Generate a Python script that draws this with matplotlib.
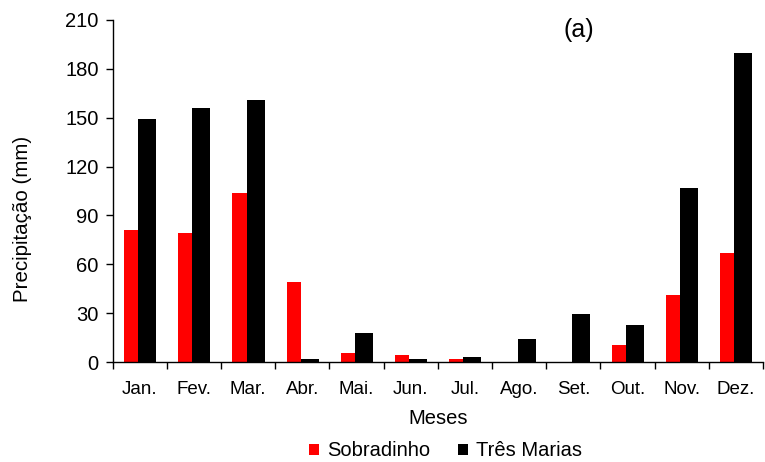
import numpy as np
import matplotlib
matplotlib.use("Agg")
import matplotlib.pyplot as plt
from matplotlib.ticker import FixedLocator

plt.rcParams["font.family"] = ["Liberation Sans", "DejaVu Sans"]

months = ["Jan.", "Fev.", "Mar.", "Abr.", "Mai.", "Jun.", "Jul.", "Ago.", "Set.", "Out.", "Nov.", "Dez."]
sobradinho = [81, 79, 104, 49, 5.5, 4.2, 1.7, 0, 0, 10.5, 41, 67]
tres_marias = [149, 156, 161, 1.7, 18, 1.7, 2.9, 14.3, 29.4, 23, 107, 190]

fig = plt.figure(figsize=(7.65, 4.62), dpi=100)
# axes box in pixels: x 112.7..763, y 20..362
ax = fig.add_axes([112.7 / 765, 1 - 362 / 462, 650.3 / 765, 342 / 462])

x = np.arange(len(months))
ax.bar(x - 0.16, sobradinho, 0.26, color="#ff0000", label="Sobradinho")
ax.bar(x + 0.137, tres_marias, 0.33, color="black", label="Três Marias")

ax.set_xlim(-0.5, len(months) - 0.5)
ax.set_ylim(0, 210)
ax.set_yticks(range(0, 211, 30))
ax.set_xticks(x)
ax.set_xticklabels(months, fontsize=13.5)
ax.tick_params(axis="x", which="major", length=0, pad=14)
ax.xaxis.set_minor_locator(FixedLocator(np.arange(-0.5, len(months), 1)))
ax.tick_params(axis="x", which="minor", direction="out", length=5, width=1)
ax.tick_params(axis="y", direction="out", length=5, width=1, labelsize=14.5, pad=5)
for s in ["top", "right"]:
    ax.spines[s].set_visible(False)
for s in ["left", "bottom"]:
    ax.spines[s].set_linewidth(1)

ax.set_ylabel("Precipitação (mm)", fontsize=14.8)
ax.yaxis.set_label_coords(-0.124, 0.418)
ax.set_xlabel("Meses", fontsize=14.5)
ax.xaxis.set_label_coords(0.5, -0.137)
ax.text(0.717, 0.971, "(a)", transform=ax.transAxes, fontsize=18, ha="center", va="center")

ax.legend(loc="center", bbox_to_anchor=(0.512, -0.26), ncol=2, frameon=False,
          fontsize=14.5, handlelength=0.5, handleheight=0.5, handletextpad=0.4,
          columnspacing=1.4, borderpad=0)

fig.savefig("out.png", dpi=100)
